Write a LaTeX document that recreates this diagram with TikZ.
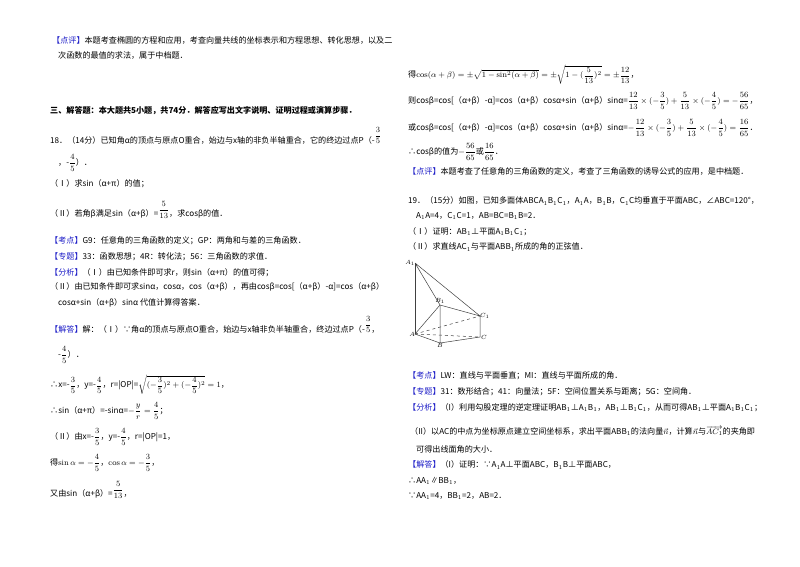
\documentclass[tikz,border=0pt]{standalone}
\usepackage{fontspec}
\usepackage{amsmath}
\newfontfamily\cjk{Noto Sans CJK SC}
\definecolor{lab}{RGB}{30,30,200}
\newcommand{\LB}[1]{{\color{lab}【#1】}}
\newcommand{\fr}[2]{$\dfrac{#1}{#2}$}
\begin{document}
\begin{tikzpicture}[x=1pt,y=-1pt,
  t/.style={anchor=west,inner sep=0,font=\cjk\fontsize{8.1}{9}\selectfont},
  tb/.style={t,font=\cjk\bfseries\fontsize{8.1}{9}\selectfont},
  edge/.style={draw=black!75,line width=0.5pt},
  hid/.style={edge,dashed},
  pt/.style={inner sep=0,font=\itshape\fontsize{6}{7}\selectfont}]
\useasboundingbox[fill=white] (0,0) rectangle (800,566);
% left column
\node[t] (l1) at (52,40) {\LB{点评}本题考查椭圆的方程和应用，考查向量共线的坐标表示和方程思想、转化思想，以及二};
\node[t] (l2) at (58,56) {次函数的最值的求法，属于中档题．};
\node[tb] (l3) at (50,111) {三、解答题：本大题共5小题，共74分．解答应写出文字说明、证明过程或演算步骤．};
\node[t] (l4) at (50,136) {18．（14分）已知角α的顶点与原点O重合，始边与x轴的非负半轴重合，它的终边过点P（-\raisebox{6pt}{\fr{3}{5}}};
\node[t] (l5) at (58,163) {，-\fr{4}{5}）．};
\node[t] (l6) at (50,184) {（Ⅰ）求sin（α+π）的值；};
\node[t] (l7) at (50,210) {（Ⅱ）若角β满足sin（α+β）=\raisebox{4pt}{\fr{5}{13}}，求cosβ的值．};
\node[t] (l8) at (50,241) {\LB{考点}G9：任意角的三角函数的定义；GP：两角和与差的三角函数．};
\node[t] (l9) at (50,257) {\LB{专题}33：函数思想；4R：转化法；56：三角函数的求值．};
\node[t] (l10) at (50,273) {\LB{分析}（Ⅰ）由已知条件即可求r，则sin（α+π）的值可得；};
\node[t] (l11) at (50,287) {（Ⅱ）由已知条件即可求sinα，cosα，cos（α+β），再由cosβ=cos[（α+β）-α]=cos（α+β）};
\node[t] (l12) at (58,303) {cosα+sin（α+β）sinα 代值计算得答案．};
\node[t] (l13) at (50,325) {\LB{解答}解：（Ⅰ）∵角α的顶点与原点O重合，始边与x轴非负半轴重合，终边过点P（-\raisebox{6pt}{\fr{3}{5}}，};
\node[t] (l14) at (58,355) {-\fr{4}{5}）．};
\node[t] (l15) at (50,385) {∴x=-\fr{3}{5}，y=-\fr{4}{5}，r=|OP|=$\sqrt{(-\dfrac{3}{5})^2+(-\dfrac{4}{5})^2}=1$，};
\node[t] (l16) at (50,411) {∴sin（α+π）=-sinα=$-\dfrac{y}{r}=\dfrac{4}{5}$；};
\node[t] (l17) at (50,437) {（Ⅱ）由x=-\fr{3}{5}，y=-\fr{4}{5}，r=|OP|=1，};
\node[t] (l18) at (50,463) {得$\sin\alpha=-\dfrac{4}{5}$，$\cos\alpha=-\dfrac{3}{5}$，};
\node[t] (l19) at (50,490) {又由sin（α+β）=\raisebox{4pt}{\fr{5}{13}}，};
% right column
\node[t] (r1) at (408,75) {得$\cos(\alpha+\beta)=\pm\sqrt{1-\sin^2(\alpha+\beta)}=\pm\sqrt{1-(\dfrac{5}{13})^2}=\pm\dfrac{12}{13}$，};
\node[t] (r2) at (408,101) {则cosβ=cos[（α+β）-α]=cos（α+β）cosα+sin（α+β）sinα=$\dfrac{12}{13}\times(-\dfrac{3}{5})+\dfrac{5}{13}\times(-\dfrac{4}{5})=-\dfrac{56}{65}$，};
\node[t] (r3) at (408,128) {或cosβ=cos[（α+β）-α]=cos（α+β）cosα+sin（α+β）sinα=$-\dfrac{12}{13}\times(-\dfrac{3}{5})+\dfrac{5}{13}\times(-\dfrac{4}{5})=\dfrac{16}{65}$．};
\node[t] (r4) at (408,152) {∴cosβ的值为$-\dfrac{56}{65}$或$\dfrac{16}{65}$．};
\node[t] (r5) at (408,171) {\LB{点评}本题考查了任意角的三角函数的定义，考查了三角函数的诱导公式的应用，是中档题．};
\node[t] (r6) at (408,201) {19．（15分）如图，已知多面体ABCA$_1$B$_1$C$_1$，A$_1$A，B$_1$B，C$_1$C均垂直于平面ABC，∠ABC=120°，};
\node[t] (r7) at (416,216) {A$_1$A=4，C$_1$C=1，AB=BC=B$_1$B=2．};
\node[t] (r8) at (408,232) {（Ⅰ）证明：AB$_1$⊥平面A$_1$B$_1$C$_1$；};
\node[t] (r9) at (408,247) {（Ⅱ）求直线AC$_1$与平面ABB$_1$所成的角的正弦值．};
% figure
\coordinate (A1) at (415,263);
\coordinate (A) at (415,334);
\coordinate (B1) at (440,305);
\coordinate (C1) at (480,316);
\coordinate (C) at (480,337);
\coordinate (B) at (440,343);
\draw[edge,line width=1pt] (A1) -- (A);
\draw[edge] (A1) -- (B1) -- (C1) -- (A1);
\draw[edge] (B1) -- (B) -- (C) -- (C1);
\draw[edge] (B1) -- (A) -- (B);
\draw[hid] (A) -- (C);
\draw[hid] (A) -- (C1);
\node[pt,anchor=east] (lA1) at (A1) {$A_1$};
\node[pt,anchor=east] (lA) at (A) {$A$};
\node[pt,anchor=south,yshift=1pt] (lB1) at (B1) {$B_1$};
\node[pt,anchor=west] (lC1) at (C1) {$C_1$};
\node[pt,anchor=west,xshift=1pt] (lC) at (C) {$C$};
\node[pt,anchor=north] (lB) at (B) {$B$};
\node[t] (r10) at (408,376) {\LB{考点}LW：直线与平面垂直；MI：直线与平面所成的角．};
\node[t] (r11) at (408,392) {\LB{专题}31：数形结合；41：向量法；5F：空间位置关系与距离；5G：空间角．};
\node[t] (r12) at (408,408) {\LB{分析}（I）利用勾股定理的逆定理证明AB$_1$⊥A$_1$B$_1$，AB$_1$⊥B$_1$C$_1$，从而可得AB$_1$⊥平面A$_1$B$_1$C$_1$；};
\node[t] (r13) at (410,431) {（II）以AC的中点为坐标原点建立空间坐标系，求出平面ABB$_1$的法向量$\vec{n}$，计算$\vec{n}$与$\overrightarrow{AC_1}$的夹角即};
\node[t] (r14) at (416,449) {可得出线面角的大小．};
\node[t] (r15) at (408,465) {\LB{解答}（I）证明：∵A$_1$A⊥平面ABC，B$_1$B⊥平面ABC，};
\node[t] (r16) at (408,481) {∴AA$_1$∥BB$_1$，};
\node[t] (r17) at (408,496) {∵AA$_1$=4，BB$_1$=2，AB=2．};
\end{tikzpicture}
\end{document}
